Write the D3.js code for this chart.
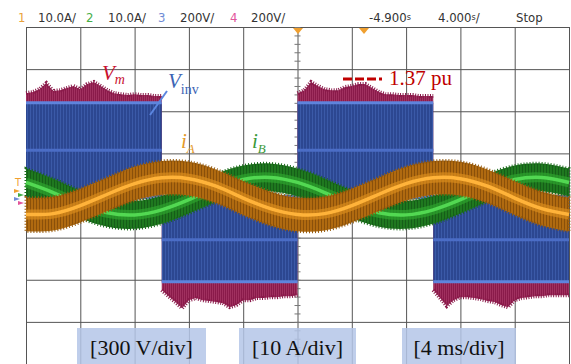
<!DOCTYPE html>
<html>
<head>
<meta charset="utf-8">
<script src="https://cdn.jsdelivr.net/npm/d3@7"></script>
<style>
body { margin: 0; background: #fff; }
svg { display: block; }
</style>
</head>
<body>
<svg id="scope" width="571" height="364"></svg>
<script>
// scope settings
var timeDivs = d3.range(0, 41, 4),          // ms, 4 ms/div
    voltDivs = d3.range(-800, 801, 200),    // V, 200 V/div on the scope
    headerText = ["1", "10.0A/", "2", "10.0A/", "3", "200V/", "4", "200V/", "-4.900", "4.000", "Stop"],
    scaleLabels = ["[300 V/div]", "[10 A/div]", "[4 ms/div]"];

// inverter voltage, one block per half cycle (V)
var vinvStart = [0, 10, 20, 30],
    vinvFull = [440, -410, 440, -410],
    vinvHalf = [215, -210, 215, -210];

// Vm noise envelope, every 0.5 ms inside each block (V)
var vmBlock1 = [486, 491, 505, 534, 496, 500, 510, 520, 505, 529, 539, 520, 500, 486, 481, 477, 481, 477, 477, 472, 472],
    vmBlock2 = [-449, -478, -506, -535, -497, -487, -497, -501, -506, -511, -530, -520, -497, -497, -487, -487, -483, -483, -478, -478, -473],
    vmBlock3 = [486, 500, 539, 520, 505, 500, 500, 515, 520, 529, 529, 510, 491, 481, 481, 477, 477, 477, 472, 472, 472],
    vmBlock4 = [-449, -487, -525, -497, -483, -483, -487, -492, -501, -506, -520, -530, -497, -487, -483, -478, -478, -473, -473, -473, -473];

// phase currents every 2 ms (A)
var iTime = d3.range(0, 41, 2),
    iA = [-4.5, -4.3, -2.4, 0.3, 2.8, 4.2, 4.0, 2.2, -0.6, -3.1, -4.5, -4.3, -2.4, 0.3, 2.8, 4.2, 4.0, 2.2, -0.6, -3.1, -4.5],
    iB = [3.1, 0.7, -2.1, -4.1, -4.6, -3.4, -1.0, 1.8, 3.8, 4.3, 3.1, 0.7, -2.1, -4.1, -4.6, -3.4, -1.0, 1.8, 3.8, 4.3, 3.1],
    rippleA = 4.0,
    rippleB = 3.3;

var svg = d3.select("#scope"),
    serif = "'Liberation Serif', 'Times New Roman', serif",
    narrow = "'Liberation Sans Narrow', 'DejaVu Sans Condensed', 'Liberation Sans', sans-serif";

var x = d3.scaleLinear().domain([0, 40]).range([26, 569]),
    yV = d3.scaleLinear().domain([-800, 800]).range([364, 27]),
    yI = d3.scaleLinear().domain([-40, 40]).range([364, 27]);

// stripe patterns for the dense switching traces
var defs = svg.append("defs");
function stripes(id, base, line, w) {
  var p = defs.append("pattern").attr("id", id)
      .attr("patternUnits", "userSpaceOnUse")
      .attr("width", w).attr("height", 10);
  p.append("rect").attr("width", w).attr("height", 10).attr("fill", base);
  p.append("rect").attr("width", 1).attr("height", 10).attr("fill", line);
}
stripes("blueStripe", "#2c4791", "#3b5aa8", 3);
stripes("redStripe", "#8a1a4a", "#a0305f", 2);
stripes("orangeStripe", "#b06a10", "#8a500a", 3);
stripes("greenStripe", "#1f781f", "#155e18", 3);

// grid
var grid = svg.append("g");
grid.append("g")
    .attr("transform", "translate(0,27)")
    .call(d3.axisTop(x).tickValues(timeDivs).tickSize(-337).tickFormat(""))
    .call(function(g) { g.select(".domain").remove(); });
grid.append("g")
    .attr("transform", "translate(26,0)")
    .call(d3.axisLeft(yV).tickValues(voltDivs).tickSize(-543).tickFormat(""))
    .call(function(g) { g.select(".domain").remove(); });
grid.selectAll("line").attr("stroke", "#555").attr("stroke-width", 1);

// minor ticks on the centre lines
grid.append("g")
    .attr("transform", "translate(0," + yV(0) + ")")
    .call(d3.axisBottom(x).tickValues(d3.range(0, 40.01, 0.8)).tickSize(3).tickSizeOuter(0).tickFormat(""))
    .call(function(g) { g.select(".domain").remove(); g.selectAll("line").attr("y1", -3).attr("stroke", "#777"); });
grid.append("g")
    .attr("transform", "translate(" + x(20) + ",0)")
    .call(d3.axisRight(yV).tickValues(d3.range(-800, 800.1, 40)).tickSize(3).tickSizeOuter(0).tickFormat(""))
    .call(function(g) { g.select(".domain").remove(); g.selectAll("line").attr("x1", -3).attr("stroke", "#777"); });

// Vm noise behind the inverter blocks
var vmArea = d3.area()
    .x(function(d) { return x(d[0]); })
    .y0(yV(0))
    .y1(function(d) { return yV(d[1]); });
var vmEdge = d3.line()
    .x(function(d) { return x(d[0]); })
    .y(function(d) { return yV(d[1]); });
[vmBlock1, vmBlock2, vmBlock3, vmBlock4].forEach(function(b, k) {
  var pts = b.map(function(v, j) { return [vinvStart[k] + j * 0.5, v]; });
  svg.append("path").datum(pts)
      .attr("fill", "url(#redStripe)")
      .attr("d", vmArea);
  // ragged top of the noise
  svg.append("path").datum(pts)
      .attr("fill", "none")
      .attr("stroke", "#8a1a4a").attr("stroke-width", 4)
      .attr("stroke-dasharray", "1,1.5")
      .attr("d", vmEdge);
});

// inverter voltage blocks
var blocks = svg.append("g");
vinvStart.forEach(function(t, k) {
  var top = Math.max(vinvFull[k], 0), bot = Math.min(vinvFull[k], 0);
  blocks.append("rect")
      .attr("x", x(t)).attr("width", x(t + 10) - x(t))
      .attr("y", yV(top)).attr("height", yV(bot) - yV(top))
      .attr("fill", "url(#blueStripe)");
  [vinvFull[k], vinvHalf[k]].forEach(function(v, j) {
    blocks.append("line")
        .attr("x1", x(t)).attr("x2", x(t + 10))
        .attr("y1", yV(v)).attr("y2", yV(v))
        .attr("stroke", j ? "#4b6dc6" : "#5f84dc")
        .attr("stroke-width", 3);
  });
});
// zero level trace
svg.append("line")
    .attr("x1", x(0)).attr("x2", x(40))
    .attr("y1", yV(-8)).attr("y2", yV(-8))
    .attr("stroke", "#5c80dc").attr("stroke-width", 4);

// current bands
function drawCurrent(vals, ripple, pattern, edge, mid, core) {
  var band = d3.area().curve(d3.curveNatural)
      .x(function(d, j) { return x(iTime[j]); });
  var line = d3.line().curve(d3.curveNatural)
      .x(function(d, j) { return x(iTime[j]); })
      .y(function(d) { return yI(d); });
  var g = svg.append("g");
  g.append("path").datum(vals)
      .attr("fill", "url(#" + pattern + ")")
      .attr("stroke", edge).attr("stroke-width", 3)
      .attr("stroke-dasharray", "1,2")
      .attr("d", band.y0(function(d) { return yI(d - ripple); }).y1(function(d) { return yI(d + ripple); }));
  g.append("path").datum(vals)
      .attr("fill", "none").attr("stroke", mid).attr("stroke-opacity", 0.7)
      .attr("stroke-width", 10).attr("d", line);
  g.append("path").datum(vals)
      .attr("fill", "none").attr("stroke", core)
      .attr("stroke-width", 3.5).attr("d", line);
}
drawCurrent(iB, rippleB, "greenStripe", "#1a6a1a", "#2ea32e", "#52d852");
drawCurrent(iA, rippleA, "orangeStripe", "#955a0c", "#d98c1c", "#ffb33a");

// header strip
var hx = [18, 38, 86, 108, 158, 180, 230, 251, 369, 438, 516],
    hc = ["#e9a23b", "#333", "#46ae46", "#333", "#6f8bd6", "#333", "#e2559c", "#333", "#333", "#333", "#333"];
var head = svg.append("g").attr("font-family", narrow).attr("font-size", 13);
headerText.forEach(function(s, k) {
  var t = head.append("text").attr("x", hx[k]).attr("y", 22).attr("fill", hc[k]).text(s);
  if (k === 8) t.append("tspan").attr("font-size", 9).attr("dy", -2).text("s");
  if (k === 9) { t.append("tspan").attr("font-size", 9).attr("dy", -2).text("s"); t.append("tspan").attr("dy", 2).text("/"); }
});
// trigger markers
svg.append("path").attr("d", "M293,28 L303,28 L298,34 Z").attr("fill", "#f0a030");
svg.append("path").attr("d", "M359,28 L369,28 L364,34 Z").attr("fill", "#f0a030");
svg.append("text").attr("x", 15).attr("y", 186).attr("font-family", narrow)
    .attr("font-size", 11).attr("fill", "#f0a030").text("T");
["#f0a030", "#46ae46", "#6f8bd6", "#e2559c"].forEach(function(c, k) {
  svg.append("path")
      .attr("d", "M" + (14 + (k % 2) * 4) + "," + (189 + k * 4) + " l6,2 l-6,2 Z")
      .attr("fill", c);
});

// annotations
var ann = svg.append("g").attr("font-family", serif);
ann.append("text").attr("x", 102).attr("y", 80).attr("font-size", 21)
    .attr("font-style", "italic").attr("fill", "#c8102e")
    .text("V").append("tspan").attr("font-size", 14).attr("dy", 4).text("m");
ann.append("text").attr("x", 168).attr("y", 88).attr("font-size", 21)
    .attr("font-style", "italic").attr("fill", "#3c64b4")
    .text("V").append("tspan").attr("font-size", 14).attr("font-style", "normal").attr("dy", 6).text("inv");
ann.append("line").attr("x1", 150).attr("y1", 115).attr("x2", 167).attr("y2", 91)
    .attr("stroke", "#5b86e0").attr("stroke-width", 2);
ann.append("text").attr("x", 181).attr("y", 148).attr("font-size", 21)
    .attr("font-style", "italic").attr("fill", "#e39a2b")
    .text("i").append("tspan").attr("font-size", 13).attr("dy", 5).text("A");
ann.append("text").attr("x", 252).attr("y", 148).attr("font-size", 21)
    .attr("font-style", "italic").attr("fill", "#3a9a3a")
    .text("i").append("tspan").attr("font-size", 13).attr("dy", 5).text("B");
ann.append("line").attr("x1", 343).attr("y1", 79).attr("x2", 384).attr("y2", 79)
    .attr("stroke", "#c00000").attr("stroke-width", 3)
    .attr("stroke-dasharray", "9,3,9,3,9,3,3,3");
ann.append("text").attr("x", 389).attr("y", 85).attr("font-size", 21)
    .attr("fill", "#c00000").text("1.37 pu");

// scale boxes along the bottom
var boxX = [[77, 206], [239, 356], [402, 516]];
scaleLabels.forEach(function(s, k) {
  ann.append("rect").attr("x", boxX[k][0]).attr("y", 328)
      .attr("width", boxX[k][1] - boxX[k][0]).attr("height", 40)
      .attr("fill", "#b4c6e8").attr("fill-opacity", 0.85);
  ann.append("text").attr("x", (boxX[k][0] + boxX[k][1]) / 2).attr("y", 355)
      .attr("text-anchor", "middle").attr("font-size", 22).attr("fill", "#111").text(s);
});
</script>
</body>
</html>
